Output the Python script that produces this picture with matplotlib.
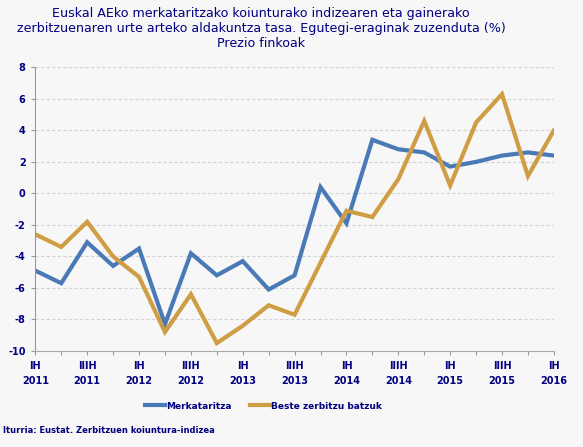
import matplotlib.pyplot as plt

periods = ["IH\n2011", "", "IIIH\n2011", "", "IH\n2012", "", "IIIH\n2012", "",
           "IH\n2013", "", "IIIH\n2013", "", "IH\n2014", "", "IIIH\n2014", "",
           "IH\n2015", "", "IIIH\n2015", "", "IH\n2016"]
merkataritza = [-4.9, -5.7, -3.1, -4.6, -3.5, -8.3, -3.8, -5.2, -4.3, -6.1, -5.2,
                0.4, -1.9, 3.4, 2.8, 2.6, 1.7, 2.0, 2.4, 2.6, 2.4]
beste = [-2.6, -3.4, -1.8, -4.0, -5.3, -8.8, -6.4, -9.5, -8.4, -7.1, -7.7,
         -4.4, -1.1, -1.5, 0.9, 4.6, 0.5, 4.5, 6.3, 1.1, 4.0]
yticks = [-10, -8, -6, -4, -2, 0, 2, 4, 6, 8]

navy = "#000080"
bg = "#f7f7f7"

fig = plt.figure(figsize=(5.83, 4.47), dpi=100, facecolor=bg)
ax = fig.add_axes([0.0606, 0.2148, 0.8894, 0.6346], facecolor=bg)

x = list(range(len(periods)))
ax.plot(x, merkataritza, color="#4a7ab5", lw=3, label="Merkataritza", solid_joinstyle="miter")
ax.plot(x, beste, color="#cf9d43", lw=3, label="Beste zerbitzu batzuk", solid_joinstyle="miter")

ax.set_xlim(0, 20)
ax.set_ylim(-10, 8)
ax.set_yticks(yticks)
ax.set_yticklabels([str(v) for v in yticks], fontsize=7, fontweight="bold", color=navy)
ax.set_xticks(x)
ax.set_xticklabels(periods, fontsize=7, fontweight="bold", color=navy, linespacing=1.6)

for v in yticks[1:]:
    ax.axhline(v, color="#d2d2d2", lw=0.8, ls=(0, (3, 2)), zorder=0)

for s in ["top", "right"]:
    ax.spines[s].set_visible(False)
ax.spines["left"].set_color("#999999")
ax.spines["bottom"].set_color("#aaaaaa")
ax.spines["bottom"].set_linestyle((0, (2, 1)))
ax.tick_params(axis="both", colors="#999999", length=3, width=0.8, pad=4)
ax.tick_params(axis="x", labelcolor=navy)
ax.tick_params(axis="y", labelcolor=navy)

fig.text(0.448, 0.984, "Euskal AEko merkataritzako koiunturako indizearen eta gainerako\n"
         "zerbitzuenaren urte arteko aldakuntza tasa. Egutegi-eraginak zuzenduta (%)\n"
         "Prezio finkoak", ha="center", va="top", fontsize=9.1, color=navy, linespacing=1.2)

ax.legend(loc="upper center", bbox_to_anchor=(0.44, -0.15), ncol=2, frameon=False,
          prop={"size": 6.5, "weight": "bold"}, labelcolor=navy, handlelength=2.3,
          columnspacing=2, handletextpad=0.1)

fig.text(0.005, 0.036, "Iturria: Eustat. Zerbitzuen koiuntura-indizea", fontsize=6,
         fontweight="bold", color=navy, va="center")

fig.savefig("out.png", dpi=100, facecolor=bg)
